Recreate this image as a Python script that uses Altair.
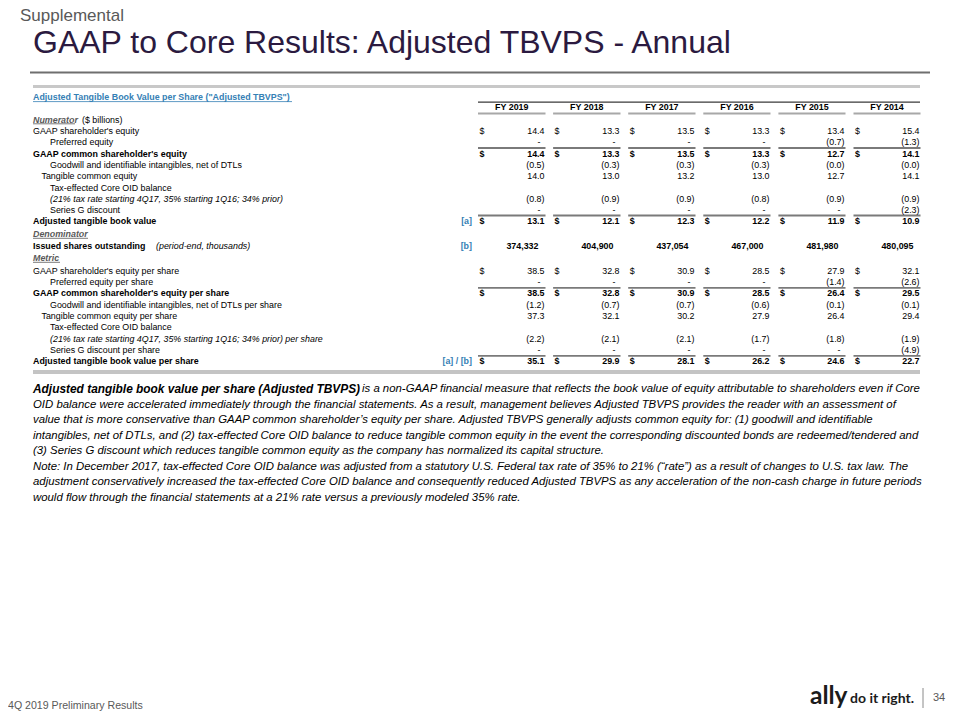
import altair as alt
import pandas as pd

# ---------------- data ----------------
years = ["FY 2019", "FY 2018", "FY 2017", "FY 2016", "FY 2015", "FY 2014"]

gaap_equity = ["14.4", "13.3", "13.5", "13.3", "13.4", "15.4"]
preferred = ["-", "-", "-", "-", "(0.7)", "(1.3)"]
gaap_common = ["14.4", "13.3", "13.5", "13.3", "12.7", "14.1"]
goodwill = ["(0.5)", "(0.3)", "(0.3)", "(0.3)", "(0.0)", "(0.0)"]
tangible = ["14.0", "13.0", "13.2", "13.0", "12.7", "14.1"]
oid = ["(0.8)", "(0.9)", "(0.9)", "(0.8)", "(0.9)", "(0.9)"]
series_g = ["-", "-", "-", "-", "-", "(2.3)"]
adj_tbv = ["13.1", "12.1", "12.3", "12.2", "11.9", "10.9"]
shares = ["374,332", "404,900", "437,054", "467,000", "481,980", "480,095"]
gaap_equity_ps = ["38.5", "32.8", "30.9", "28.5", "27.9", "32.1"]
preferred_ps = ["-", "-", "-", "-", "(1.4)", "(2.6)"]
gaap_common_ps = ["38.5", "32.8", "30.9", "28.5", "26.4", "29.5"]
goodwill_ps = ["(1.2)", "(0.7)", "(0.7)", "(0.6)", "(0.1)", "(0.1)"]
tangible_ps = ["37.3", "32.1", "30.2", "27.9", "26.4", "29.4"]
oid_ps = ["(2.2)", "(2.1)", "(2.1)", "(1.7)", "(1.8)", "(1.9)"]
series_g_ps = ["-", "-", "-", "-", "-", "(4.9)"]
adj_tbvps = ["35.1", "29.9", "28.1", "26.2", "24.6", "22.7"]

oid_label = "(21% tax rate starting 4Q17, 35% starting 1Q16; 34% prior)"
row_labels = [
    "GAAP shareholder's equity",
    "Preferred equity",
    "GAAP common shareholder's equity",
    "Goodwill and identifiable intangibles, net of DTLs",
    "Tangible common equity",
    "Tax-effected Core OID balance",
    oid_label,
    "Series G discount",
    "Adjusted tangible book value",
    "Issued shares outstanding",
    "GAAP shareholder's equity per share",
    "Preferred equity per share",
    "GAAP common shareholder's equity per share",
    "Goodwill and identifiable intangibles, net of DTLs per share",
    "Tangible common equity per share",
    "Tax-effected Core OID balance",
    oid_label + " per share",
    "Series G discount per share",
    "Adjusted tangible book value per share",
]
row_values = [
    gaap_equity, preferred, gaap_common, goodwill, tangible, None, oid, series_g, adj_tbv,
    shares,
    gaap_equity_ps, preferred_ps, gaap_common_ps, goodwill_ps, tangible_ps, None, oid_ps,
    series_g_ps, adj_tbvps,
]

slide_title = "GAAP to Core Results: Adjusted TBVPS - Annual"
kicker = "Supplemental"
table_title = 'Adjusted Tangible Book Value per Share ("Adjusted TBVPS")'
footer = "4Q 2019 Preliminary Results"
page_no = "34"

para_bold = "Adjusted tangible book value per share (Adjusted TBVPS)"
para_lines = [
    "is a non-GAAP financial measure that reflects the book value of equity attributable to shareholders even if Core",
    "OID balance were accelerated immediately through the financial statements. As a result, management believes Adjusted TBVPS provides the reader with an assessment of",
    "value that is more conservative than GAAP common shareholder\u2019s equity per share. Adjusted TBVPS generally adjusts common equity for: (1) goodwill and identifiable",
    "intangibles, net of DTLs, and (2) tax-effected Core OID balance to reduce tangible common equity in the event the corresponding discounted bonds are redeemed/tendered and",
    "(3) Series G discount which reduces tangible common equity as the company has normalized its capital structure.",
    "Note: In December 2017, tax-effected Core OID balance was adjusted from a statutory U.S. Federal tax rate of 35% to 21% (\u201crate\u201d) as a result of changes to U.S. tax law. The",
    "adjustment conservatively increased the tax-effected Core OID balance and consequently reduced Adjusted TBVPS as any acceleration of the non-cash charge in future periods",
    "would flow through the financial statements at a 21% rate versus a previously modeled 35% rate.",
]

# ---------------- layout (positions / styles) ----------------
FONT = "Liberation Sans, Arial, sans-serif"
TS = 8.9  # table font size
BLUE = "#3580B5"
GRAY = "#595959"

# per row: y, indent level, bold, dollar sign, line above, reference tag
row_layout = [
    (131.0, 0, False, True, False, ""),
    (142.3, 2, False, False, False, ""),
    (153.5, 0, True, True, True, ""),
    (164.5, 2, False, False, False, ""),
    (176.0, 1, False, False, False, ""),
    (187.5, 2, False, False, False, ""),
    (198.5, 2, False, False, False, ""),
    (209.5, 2, False, False, False, ""),
    (221.0, 0, True, True, True, "[a]"),
    (245.5, 0, True, False, False, "[b]"),
    (270.5, 0, False, True, False, ""),
    (282.0, 2, False, False, False, ""),
    (293.3, 0, True, True, True, ""),
    (304.7, 2, False, False, False, ""),
    (316.3, 1, False, False, False, ""),
    (327.3, 2, False, False, False, ""),
    (338.7, 2, False, False, False, ""),
    (349.7, 2, False, False, False, ""),
    (361.3, 0, True, True, True, "[a] / [b]"),
]
indent_x = [33.0, 41.5, 50.0]
dollar_x = [479.5 + 75.1 * i for i in range(6)]
right_x = [544.5 + 75.0 * i for i in range(6)]

texts = []
rules = []


def T(x, y, text, size=TS, color="#000000", align="left", baseline="middle",
      font=FONT, weight="normal", style="normal"):
    texts.append(dict(x=x, y=y, text=text, size=size, color=color, align=align,
                      baseline=baseline, font=font, weight=weight, style=style))


def R(x, x2, y, y2, color, width):
    rules.append(dict(x=x, x2=x2, y=y, y2=y2, color=color, w=width))


# header area
T(20, 21.3, kicker, size=17, color=GRAY, baseline="alphabetic")
T(33, 53.3, slide_title, size=32, color="#2B1A40", baseline="alphabetic")
R(30, 930, 72.5, 72.5, "#6f6f6f", 2.2)
R(33, 920, 86.5, 86.5, "#c8c8c8", 3)

# table title + column headers
T(33, 97.3, table_title, color=BLUE, weight="bold")
R(33, 292, 101.6, 101.6, BLUE, 0.8)
R(478, 920, 102.2, 102.2, "#3a3a3a", 1.3)
for i, yr in enumerate(years):
    x0, x1 = dollar_x[i] - 1.5, right_x[i] + 1
    T((x0 + x1) / 2, 107.3, yr, align="center", weight="bold")
    R(x0, x1, 113.5, 113.5, "#a8a8a8", 2)

# section headers
T(33, 119.5, "Numerator", color=GRAY, style="italic", weight="bold")
R(33, 75, 123.8, 123.8, GRAY, 0.8)
T(82, 119.5, "($ billions)")
T(33, 234.0, "Denominator", color=GRAY, style="italic", weight="bold")
R(33, 88, 238.3, 238.3, GRAY, 0.8)
T(33, 258.0, "Metric", color=GRAY, style="italic", weight="bold")
R(33, 60, 262.3, 262.3, GRAY, 0.8)

for label, vals, lay in zip(row_labels, row_values, row_layout):
    y, lvl, bold, dollar, line, ref = lay
    w = "bold" if bold else "normal"
    st = "italic" if label.startswith("(21%") else "normal"
    T(indent_x[lvl], y, label, weight=w, style=st)
    if label == "Issued shares outstanding":
        T(156, y, "(period-end, thousands)", style="italic")
    if ref:
        T(472, y, ref, color=BLUE, align="right", weight="bold")
    if vals is None:
        continue
    for i, v in enumerate(vals):
        if dollar:
            T(dollar_x[i], y, "$", weight=w)
        if v == "-":
            T(right_x[i] - 4, y, v, weight=w, align="right")
        elif "," in v:
            T(right_x[i] - 6, y, v, weight=w, align="right")
        else:
            T(right_x[i], y, v, weight=w, align="right")
        if line:
            R(dollar_x[i] - 1.5, right_x[i] + 1, y - 5.5, y - 5.5, "#7a7a7a", 1.8)

R(33, 920, 372, 372, "#c4c4c4", 4)

# explanatory paragraph
PS = 11.38
py0, pdy = 389.0, 15.57
T(33, py0, para_bold, size=11.9, weight="bold", style="italic")
for k, line in enumerate(para_lines):
    x = 362 if k == 0 else 33
    T(x, py0 + pdy * k, line, size=PS, style="italic")

# footer
T(8, 706, footer, size=10.6, color=GRAY)
T(810, 697, "ally", size=24.5, color="#1b1b1b", weight="bold", font="Lato, Inter, sans-serif")
T(850, 698.5, "do it right.", size=14, color="#1b1b1b", weight="bold", font="Lato, Inter, sans-serif")
R(923, 923, 688, 708, "#8a8a8a", 1)
T(933, 698, page_no, size=11, color=GRAY)

# ---------------- chart ----------------
xs = alt.Scale(domain=[8, 952], nice=False, zero=False)
ys = alt.Scale(domain=[8, 712], nice=False, zero=False, reverse=True)

tdf = pd.DataFrame(texts)
rdf = pd.DataFrame(rules)

layers = [
    alt.Chart(rdf).mark_rule().encode(
        x=alt.X("x:Q", scale=xs, axis=None),
        x2="x2:Q",
        y=alt.Y("y:Q", scale=ys, axis=None),
        y2="y2:Q",
        color=alt.Color("color:N", scale=None),
        strokeWidth=alt.StrokeWidth("w:Q", scale=None),
    )
]
keys = ["align", "baseline", "font", "weight", "style"]
for key, sub in tdf.groupby(keys, sort=False):
    a, b, f, w, s = key
    layers.append(
        alt.Chart(sub.drop(columns=keys)).mark_text(
            align=a, baseline=b, font=f, fontWeight=w, fontStyle=s
        ).encode(
            x=alt.X("x:Q", scale=xs, axis=None),
            y=alt.Y("y:Q", scale=ys, axis=None),
            text="text:N",
            color=alt.Color("color:N", scale=None),
            size=alt.Size("size:Q", scale=None),
        )
    )

chart = alt.layer(*layers).properties(
    width=944, height=704, padding=0,
    autosize=alt.AutoSizeParams(type="none"),
    background="white",
).configure_view(stroke=None)

chart.save("out.html", embed_options={"renderer": "svg", "actions": False})
